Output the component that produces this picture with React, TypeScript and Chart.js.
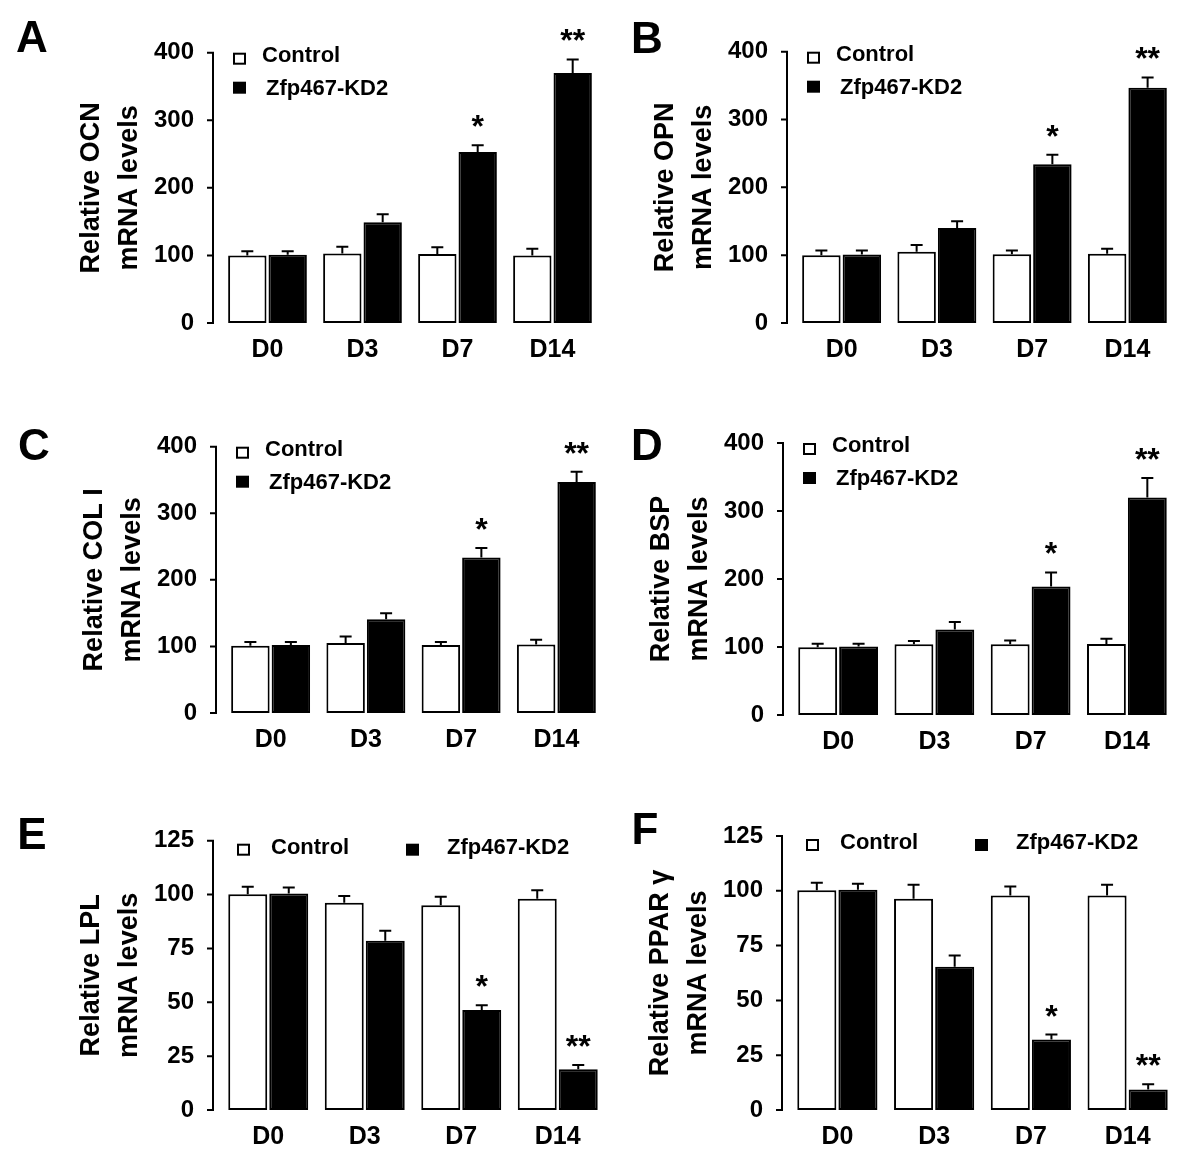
import React, { useEffect, useRef } from 'react';
import { Chart, registerables } from 'chart.js';

Chart.register(...registerables);

const FONT = "'Liberation Sans', Arial, Helvetica, sans-serif";

// ---------- data ----------
const DAYS = ['D0', 'D3', 'D7', 'D14'];
const SIGNIFICANCE = ['', '', '*', '**'];
const SERIES_NAMES = ['Control', 'Zfp467-KD2'];

const TICKS_400 = [0, 100, 200, 300, 400];
const TICKS_125 = [0, 25, 50, 75, 100, 125];

const OCN_CONTROL = [100, 103, 102, 100];
const OCN_CONTROL_ERR = [6, 10, 10, 10];
const OCN_KD2 = [101, 149, 253, 370];
const OCN_KD2_ERR = [5, 12, 10, 20];

const OPN_CONTROL = [100, 105, 101.5, 102];
const OPN_CONTROL_ERR = [7, 10, 5.5, 7.5];
const OPN_KD2 = [101, 140, 234, 347];
const OPN_KD2_ERR = [6, 10, 14, 15];

const COL1_CONTROL = [101, 105, 102, 103];
const COL1_CONTROL_ERR = [5.5, 10, 4.5, 7];
const COL1_KD2 = [102, 141, 233.5, 347];
const COL1_KD2_ERR = [4.5, 9, 14.5, 15.5];

const BSP_CONTROL = [99.6, 104, 104, 104.5];
const BSP_CONTROL_ERR = [5, 5, 5.5, 7.5];
const BSP_KD2 = [100.6, 125.6, 189, 320];
const BSP_KD2_ERR = [4, 11, 20.6, 28.5];

const LPL_CONTROL = [100.2, 96.2, 95, 98];
const LPL_CONTROL_ERR = [3.4, 3.1, 4, 4];
const LPL_KD2 = [100.5, 78.6, 46.4, 18.9];
const LPL_KD2_ERR = [2.8, 4.6, 2.2, 2];

const PPARG_CONTROL = [100.2, 96.4, 97.9, 97.9];
const PPARG_CONTROL_ERR = [3.5, 6.4, 4.1, 4.9];
const PPARG_KD2 = [100.5, 65.4, 32.2, 9.4];
const PPARG_KD2_ERR = [2.7, 5.1, 2.2, 2.3];

// ---------- panel definitions ----------
type Panel = {
  letter: string;
  letterX: number;
  letterY: number;
  title: string[];
  ticks: number[];
  ctrl: number[];
  ctrlErr: number[];
  kd: number[];
  kdErr: number[];
  cx: number; // canvas left (page px)
  cy: number; // canvas top
  cw: number;
  ch: number;
  axisX: number;
  right: number;
  top: number;
  bottom: number;
  legendRow: boolean;
};

const PANELS: Panel[] = [
  {
    letter: 'A', letterX: 32, letterY: 37, title: ['Relative OCN', 'mRNA levels'], ticks: TICKS_400,
    ctrl: OCN_CONTROL, ctrlErr: OCN_CONTROL_ERR, kd: OCN_KD2, kdErr: OCN_KD2_ERR,
    cx: 0, cy: 0, cw: 610, ch: 390, axisX: 213, right: 600, top: 52.7, bottom: 323, legendRow: false,
  },
  {
    letter: 'B', letterX: 647, letterY: 38, title: ['Relative OPN', 'mRNA levels'], ticks: TICKS_400,
    ctrl: OPN_CONTROL, ctrlErr: OPN_CONTROL_ERR, kd: OPN_KD2, kdErr: OPN_KD2_ERR,
    cx: 600, cy: 0, cw: 600, ch: 390, axisX: 787, right: 1175, top: 51.7, bottom: 323, legendRow: false,
  },
  {
    letter: 'C', letterX: 34, letterY: 445, title: ['Relative COL I', 'mRNA levels'], ticks: TICKS_400,
    ctrl: COL1_CONTROL, ctrlErr: COL1_CONTROL_ERR, kd: COL1_KD2, kdErr: COL1_KD2_ERR,
    cx: 0, cy: 390, cw: 610, ch: 390, axisX: 216, right: 604, top: 446.7, bottom: 713, legendRow: false,
  },
  {
    letter: 'D', letterX: 647, letterY: 445, title: ['Relative BSP', 'mRNA levels'], ticks: TICKS_400,
    ctrl: BSP_CONTROL, ctrlErr: BSP_CONTROL_ERR, kd: BSP_KD2, kdErr: BSP_KD2_ERR,
    cx: 600, cy: 390, cw: 600, ch: 390, axisX: 783, right: 1175, top: 443, bottom: 715, legendRow: false,
  },
  {
    letter: 'E', letterX: 32, letterY: 834, title: ['Relative LPL', 'mRNA levels'], ticks: TICKS_125,
    ctrl: LPL_CONTROL, ctrlErr: LPL_CONTROL_ERR, kd: LPL_KD2, kdErr: LPL_KD2_ERR,
    cx: 0, cy: 780, cw: 610, ch: 388, axisX: 213, right: 606, top: 840.7, bottom: 1110, legendRow: true,
  },
  {
    letter: 'F', letterX: 645, letterY: 829, title: ['Relative PPAR γ', 'mRNA levels'], ticks: TICKS_125,
    ctrl: PPARG_CONTROL, ctrlErr: PPARG_CONTROL_ERR, kd: PPARG_KD2, kdErr: PPARG_KD2_ERR,
    cx: 600, cy: 780, cw: 600, ch: 388, axisX: 782, right: 1176, top: 836, bottom: 1110, legendRow: true,
  },
];

const AXIS_GAP = 7; // distance from drawn y-axis line to chart area
const X_SCALE_H = 50;

function makeDecor(p: Panel) {
  return {
    id: 'decor' + p.letter,
    afterDatasetsDraw(chart: any) {
      const ctx: CanvasRenderingContext2D = chart.ctx;
      const ys = chart.scales.y;
      ctx.save();
      ctx.strokeStyle = '#000';
      ctx.fillStyle = '#000';
      ctx.lineWidth = 2;

      // error bars + significance
      const sets: [number[], number[]][] = [
        [p.ctrl, p.ctrlErr],
        [p.kd, p.kdErr],
      ];
      sets.forEach(([vals, errs], i) => {
        const meta = chart.getDatasetMeta(i);
        meta.data.forEach((el: any, j: number) => {
          const x = el.x;
          const yb = ys.getPixelForValue(vals[j]);
          const yt = ys.getPixelForValue(vals[j] + errs[j]);
          ctx.beginPath();
          ctx.moveTo(x, yb);
          ctx.lineTo(x, yt);
          ctx.moveTo(x - 6, yt);
          ctx.lineTo(x + 6, yt);
          ctx.stroke();
          if (i === 1 && SIGNIFICANCE[j]) {
            ctx.font = `bold 32px ${FONT}`;
            ctx.textAlign = 'center';
            ctx.textBaseline = 'alphabetic';
            ctx.fillText(SIGNIFICANCE[j], x, yt - 8);
          }
        });
      });

      // y axis line and ticks
      const ax = p.axisX - p.cx;
      const maxV = p.ticks[p.ticks.length - 1];
      ctx.beginPath();
      ctx.moveTo(ax, ys.getPixelForValue(maxV) - 1);
      ctx.lineTo(ax, ys.getPixelForValue(0) + 1);
      ys.ticks.forEach((t: any) => {
        const py = ys.getPixelForValue(t.value);
        ctx.moveTo(ax - 6, py);
        ctx.lineTo(ax, py);
      });
      ctx.stroke();

      // legend
      const top = p.top - p.cy;
      ctx.font = `bold 22px ${FONT}`;
      ctx.textAlign = 'left';
      ctx.textBaseline = 'middle';
      const drawBox = (x: number, cyy: number, filled: boolean) => {
        const w = 13, h = 12;
        const y0 = cyy - h / 2;
        if (filled) {
          ctx.fillStyle = '#000';
          ctx.fillRect(x, y0, w, h);
        } else {
          ctx.fillStyle = '#fff';
          ctx.fillRect(x, y0, w, h);
          ctx.strokeStyle = '#000';
          ctx.lineWidth = 2;
          ctx.strokeRect(x + 1, y0 + 1, w - 2, h - 2);
        }
        ctx.fillStyle = '#000';
      };
      if (p.legendRow) {
        drawBox(ax + 24, top + 9, false);
        ctx.fillText(SERIES_NAMES[0], ax + 58, top + 7);
        drawBox(ax + 193, top + 9, true);
        ctx.fillText(SERIES_NAMES[1], ax + 234, top + 7);
      } else {
        drawBox(ax + 20, top + 6, false);
        ctx.fillText(SERIES_NAMES[0], ax + 49, top + 3);
        drawBox(ax + 20, top + 35, true);
        ctx.fillText(SERIES_NAMES[1], ax + 53, top + 36);
      }
      ctx.restore();
    },
  };
}

function PanelChart({ p }: { p: Panel }) {
  const ref = useRef<HTMLCanvasElement | null>(null);
  useEffect(() => {
    if (!ref.current) return;
    const left = p.axisX + AXIS_GAP;
    const yWidth = left - p.cx;
    const maxV = p.ticks[p.ticks.length - 1];
    const chart = new Chart(ref.current, {
      type: 'bar',
      data: {
        labels: DAYS,
        datasets: [
          {
            label: SERIES_NAMES[0],
            data: p.ctrl,
            backgroundColor: '#ffffff',
            borderColor: '#000000',
            borderWidth: 2,
            borderSkipped: false,
            barPercentage: 0.95,
            categoryPercentage: 0.85,
          },
          {
            label: SERIES_NAMES[1],
            data: p.kd,
            backgroundColor: '#000000',
            borderColor: '#000000',
            borderWidth: 2,
            borderSkipped: false,
            barPercentage: 0.95,
            categoryPercentage: 0.85,
          },
        ],
      },
      options: {
        animation: false,
        responsive: false,
        maintainAspectRatio: false,
        devicePixelRatio: 1,
        layout: {
          padding: {
            left: 0,
            top: p.top - p.cy,
            right: p.cx + p.cw - p.right,
            bottom: p.cy + p.ch - p.bottom - X_SCALE_H,
          },
        },
        plugins: {
          legend: { display: false },
          tooltip: { enabled: false },
        },
        scales: {
          x: {
            grid: { display: false, drawTicks: false },
            border: { display: false },
            ticks: {
              color: '#000',
              padding: 12,
              font: { family: FONT, size: 25, weight: 'bold' },
            },
            afterFit: (s: any) => {
              s.height = X_SCALE_H;
            },
          },
          y: {
            min: 0,
            max: maxV,
            grid: { display: false, drawTicks: false },
            border: { display: false },
            ticks: {
              color: '#000',
              padding: AXIS_GAP + 19,
              font: { family: FONT, size: 24, weight: 'bold' },
            },
            afterBuildTicks: (s: any) => {
              s.ticks = p.ticks.map((v) => ({ value: v }));
            },
            title: {
              display: true,
              text: p.title,
              color: '#000',
              font: { family: FONT, size: 27, weight: 'bold', lineHeight: 1.4 },
              padding: { top: p.axisX - 121 - p.cx - 18.9, bottom: 0 },
            },
            afterFit: (s: any) => {
              s.width = yWidth;
            },
          },
        },
      } as any,
      plugins: [makeDecor(p)],
    });
    return () => chart.destroy();
  }, [p]);

  return (
    <canvas
      ref={ref}
      width={p.cw}
      height={p.ch}
      style={{ position: 'absolute', left: p.cx, top: p.cy, width: p.cw, height: p.ch }}
    />
  );
}

export default function App() {
  return (
    <div
      style={{
        position: 'absolute',
        left: 0,
        top: 0,
        width: 1200,
        height: 1168,
        background: '#ffffff',
        overflow: 'hidden',
      }}
    >
      {PANELS.map((p) => (
        <PanelChart key={p.letter} p={p} />
      ))}
      {PANELS.map((p) => (
        <div
          key={'L' + p.letter}
          style={{
            position: 'absolute',
            left: p.letterX,
            top: p.letterY,
            transform: 'translate(-50%, -50%)',
            fontFamily: FONT,
            fontWeight: 'bold',
            fontSize: 44,
            lineHeight: 1,
            color: '#000',
          }}
        >
          {p.letter}
        </div>
      ))}
    </div>
  );
}
